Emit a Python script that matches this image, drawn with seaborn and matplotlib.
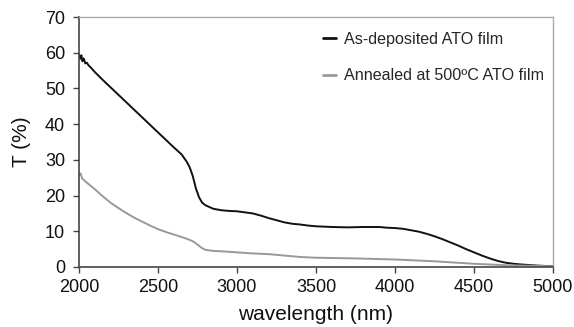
import matplotlib
matplotlib.use("Agg")
import matplotlib.pyplot as plt
import seaborn as sns
import pandas as pd

# As-deposited ATO film (black)
wl_dep = [2000, 2008, 2015, 2022, 2030, 2040, 2050, 2060, 2080, 2100, 2150, 2200, 2250,
          2300, 2350, 2400, 2450, 2500, 2550, 2600, 2650, 2680, 2700, 2720, 2740,
          2760, 2780, 2800, 2850, 2900, 2950, 3000, 3050, 3100, 3150, 3200, 3250,
          3300, 3350, 3400, 3450, 3500, 3600, 3700, 3800, 3900, 3950, 4000, 4050,
          4100, 4150, 4200, 4250, 4300, 4350, 4400, 4450, 4500, 4550, 4600, 4650,
          4700, 4750, 4800, 4900, 5000]
t_dep = [59.5, 58.3, 59.3, 57.6, 58.4, 57.0, 57.2, 56.5, 55.6, 54.6, 52.4, 50.3, 48.2,
         46.1, 44.0, 41.9, 39.8, 37.7, 35.6, 33.5, 31.5, 29.6, 28.0, 25.5, 22.0,
         19.5, 18.0, 17.3, 16.3, 15.9, 15.7, 15.6, 15.3, 15.0, 14.4, 13.7, 13.1,
         12.5, 12.1, 11.9, 11.6, 11.4, 11.2, 11.1, 11.2, 11.2, 11.0, 10.9, 10.7,
         10.3, 9.9, 9.3, 8.6, 7.8, 6.9, 6.0, 5.0, 4.1, 3.2, 2.4, 1.7,
         1.2, 0.9, 0.7, 0.4, 0.2]

# Annealed at 500ºC ATO film (gray)
wl_ann = [2000, 2010, 2020, 2050, 2100, 2150, 2200, 2250, 2300, 2350, 2400, 2450,
          2500, 2550, 2600, 2650, 2700, 2725, 2750, 2775, 2800, 2850, 2900, 3000,
          3100, 3200, 3300, 3400, 3500, 3750, 4000, 4250, 4500, 4700, 5000]
t_ann = [25.5, 26.2, 24.8, 23.6, 21.8, 19.8, 18.0, 16.5, 15.1, 13.8, 12.7, 11.6,
         10.6, 9.8, 9.1, 8.4, 7.6, 7.1, 6.3, 5.4, 4.8, 4.5, 4.4, 4.1,
         3.8, 3.6, 3.2, 2.8, 2.6, 2.4, 2.1, 1.6, 0.9, 0.5, 0.2]

labels = ["As-deposited ATO film", "Annealed at 500ºC ATO film"]

df = pd.concat([
    pd.DataFrame({"wavelength": wl_dep, "T": t_dep, "series": labels[0]}),
    pd.DataFrame({"wavelength": wl_ann, "T": t_ann, "series": labels[1]}),
], ignore_index=True)

sns.set_style("white")
plt.rcParams["font.family"] = ["Liberation Sans", "DejaVu Sans"]

fig = plt.figure(figsize=(5.74, 3.27), dpi=100)
ax = fig.add_axes([0.1376, 0.1835, 0.8258, 0.7645])

sns.lineplot(data=df, x="wavelength", y="T", hue="series", hue_order=labels,
             palette={labels[0]: "#111111", labels[1]: "#999999"},
             sort=False, estimator=None, linewidth=1.4, ax=ax)

ax.set_xlim(2000, 5000)
ax.set_ylim(0, 70)
ax.set_xticks([2000, 2500, 3000, 3500, 4000, 4500, 5000])
ax.set_yticks([0, 10, 20, 30, 40, 50, 60, 70])
ax.set_xlabel("wavelength (nm)", fontsize=15, color="#111111", labelpad=6)
ax.set_ylabel("T (%)", fontsize=15, color="#111111", labelpad=10)
ax.tick_params(axis="both", direction="out", length=4, width=1, color="#444444",
               labelsize=13, labelcolor="#111111", bottom=True, left=True)
ax.tick_params(axis="x", pad=5)
ax.tick_params(axis="y", pad=6)

for s in ["left", "bottom"]:
    ax.spines[s].set_color("#444444")
    ax.spines[s].set_linewidth(1.2)
for s in ["top", "right"]:
    ax.spines[s].set_color("#aaaaaa")
    ax.spines[s].set_linewidth(1.0)

leg = ax.legend(loc="upper left", frameon=False, fontsize=11.6, handlelength=0.8,
                handletextpad=0.5, labelspacing=1.35, bbox_to_anchor=(0.484, 1.0))
for line in leg.get_lines():
    line.set_linewidth(2)

fig.savefig("out.png", dpi=100)
